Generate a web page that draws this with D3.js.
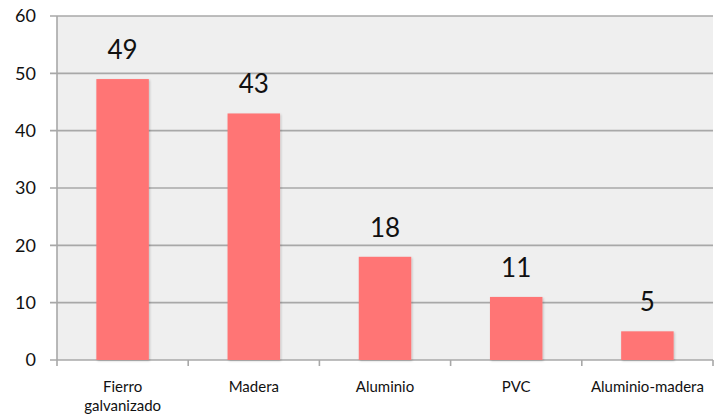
<html>
  <head>
    <style>
      body { margin: 0; background: white; }
      text { font-family: "Lato", "Open Sans", sans-serif; fill: #111; }
    </style>
  </head>
  <body>
    <script src="https://d3js.org/d3.v7.min.js"></script>
    <script>
    var categories = ["Fierro galvanizado", "Madera", "Aluminio", "PVC", "Aluminio-madera"];
    var values = [49, 43, 18, 11, 5];
    var yTicks = [0, 10, 20, 30, 40, 50, 60];

    var width = 715, height = 415;
    var margin = {top: 16, right: 2, bottom: 55, left: 57};

    var svg = d3.select("body").append("svg")
        .attr("width", width)
        .attr("height", height);

    var x = d3.scaleBand()
        .domain(categories)
        .range([margin.left, width - margin.right])
        .paddingInner(0.6)
        .paddingOuter(0.3);

    var y = d3.scaleLinear()
        .domain([0, 60])
        .range([height - margin.bottom, margin.top]);

    // plot background
    svg.append("rect")
        .attr("x", margin.left)
        .attr("y", y(60))
        .attr("width", width - margin.right - margin.left)
        .attr("height", y(0) - y(60))
        .attr("fill", "#efefef");

    // gridlines
    svg.append("g").selectAll("line")
      .data(yTicks)
      .enter().append("line")
        .attr("x1", margin.left - 7)
        .attr("x2", width - margin.right)
        .attr("y1", function(d) { return y(d); })
        .attr("y2", function(d) { return y(d); })
        .attr("stroke", "#a8a8a8")
        .attr("stroke-width", 1.6);

    // left axis line
    svg.append("line")
        .attr("x1", margin.left).attr("x2", margin.left)
        .attr("y1", y(60)).attr("y2", y(0))
        .attr("stroke", "#a8a8a8")
        .attr("stroke-width", 1.6);

    // bottom ticks at category boundaries
    var step = x.step();
    var bounds = d3.range(categories.length + 1).map(function(i) { return margin.left + i * step; });
    svg.append("g").selectAll("line")
      .data(bounds)
      .enter().append("line")
        .attr("x1", function(d) { return d; })
        .attr("x2", function(d) { return d; })
        .attr("y1", y(0))
        .attr("y2", y(0) + 6)
        .attr("stroke", "#a8a8a8")
        .attr("stroke-width", 1.6);

    // y tick labels
    svg.append("g").selectAll("text")
      .data(yTicks)
      .enter().append("text")
        .attr("x", 36)
        .attr("y", function(d) { return y(d); })
        .attr("dy", "0.35em")
        .attr("text-anchor", "end")
        .style("font-size", "18px")
        .text(function(d) { return d; });

    // bars with soft shadow
    var defs = svg.append("defs");
    var f = defs.append("filter").attr("id", "shadow").attr("x", "-10%").attr("y", "-10%").attr("width", "130%").attr("height", "130%");
    f.append("feDropShadow").attr("dx", 1).attr("dy", 1).attr("stdDeviation", 1).attr("flood-color", "#000").attr("flood-opacity", 0.2);

    svg.append("g").selectAll("rect")
      .data(values)
      .enter().append("rect")
        .attr("x", function(d, i) { return x(categories[i]); })
        .attr("y", function(d) { return y(d); })
        .attr("width", x.bandwidth())
        .attr("height", function(d) { return y(0) - y(d); })
        .attr("fill", "#ff7575")
        .attr("filter", "url(#shadow)");

    // value labels
    svg.append("g").selectAll("text")
      .data(values)
      .enter().append("text")
        .attr("x", function(d, i) { return x(categories[i]) + x.bandwidth() / 2; })
        .attr("y", function(d) { return y(d) - 20; })
        .attr("text-anchor", "middle")
        .style("font-size", "26px")
        .text(function(d) { return d; });

    // category labels
    svg.append("g").selectAll("text")
      .data(categories)
      .enter().append("text")
        .attr("x", function(d) { return x(d) + x.bandwidth() / 2; })
        .attr("y", y(0) + 32)
        .attr("text-anchor", "middle")
        .style("font-size", "15px")
        .each(function(d) {
          var t = d3.select(this);
          var parts = d === "Fierro galvanizado" ? ["Fierro", "galvanizado"] : [d];
          parts.forEach(function(p, j) {
            t.append("tspan")
              .attr("x", t.attr("x"))
              .attr("dy", j === 0 ? 0 : 19)
              .text(p);
          });
        });
    </script>
  </body>
</html>
